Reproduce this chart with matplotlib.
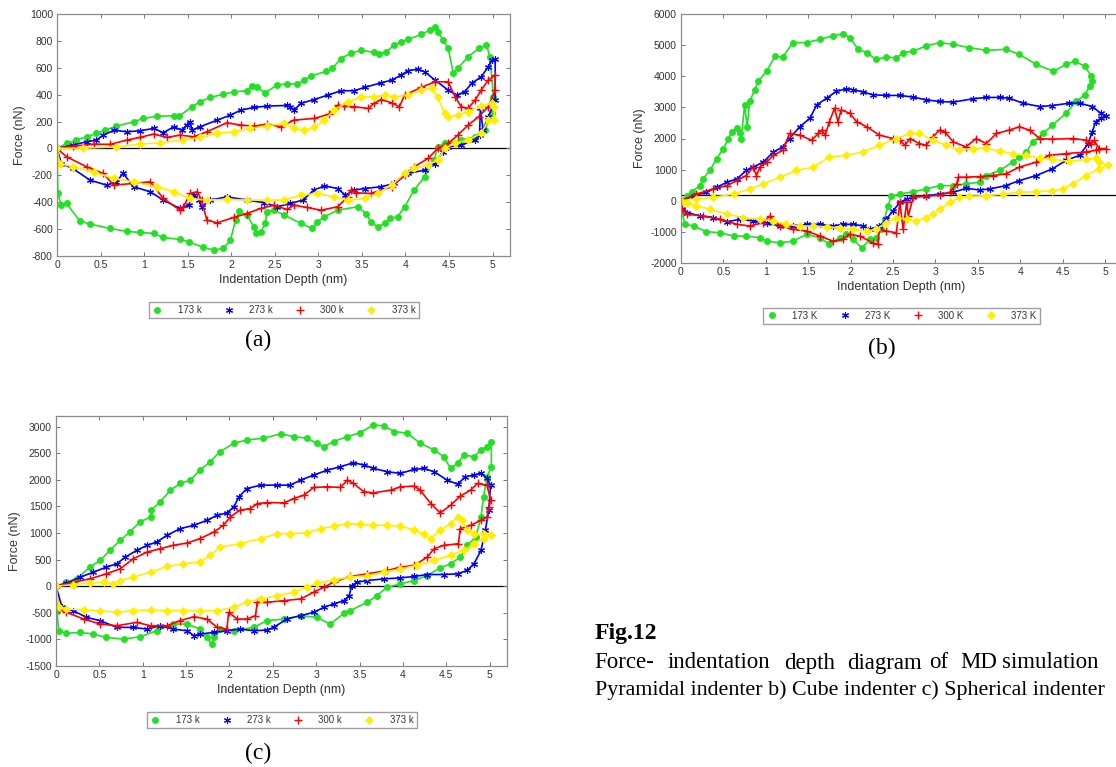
import matplotlib.pyplot as plt
from matplotlib.lines import Line2D

plt.rcParams['font.family'] = ['Liberation Sans', 'DejaVu Sans']
plt.rcParams['axes.unicode_minus'] = False

# ---- data: (indentation depth nm, force nN) ----
# (a) pyramidal indenter
a_173 = [(0, 0), (0.11, 37), (0.22, 62), (0.34, 87), (0.45, 112), (0.55, 136), (0.68, 166), (0.88, 198),
         (0.99, 223), (1.15, 240), (1.34, 243), (1.40, 240), (1.55, 310), (1.64, 347), (1.76, 379), (1.91, 404),
         (2.03, 421), (2.18, 429), (2.24, 464), (2.30, 454), (2.39, 414), (2.53, 474), (2.64, 479), (2.76, 481),
         (2.84, 508), (2.91, 538), (3.09, 573), (3.16, 595), (3.26, 669), (3.37, 707), (3.49, 731), (3.64, 714),
         (3.70, 699), (3.78, 719), (3.87, 769), (3.95, 793), (4.03, 811), (4.18, 848), (4.28, 880), (4.34, 900),
         (4.37, 868), (4.43, 806), (4.49, 744), (4.55, 558), (4.60, 595), (4.72, 682), (4.84, 744), (4.93, 769),
         (4.97, 682), (5.01, 384),
         (4.99, 260), (4.91, 136), (4.80, 87), (4.64, 62), (4.45, 37), (4.37, 12), (4.33, -87), (4.22, -211),
         (4.10, -310), (3.99, -434), (3.91, -508), (3.82, -521), (3.76, -558), (3.68, -583), (3.60, -546),
         (3.55, -484), (3.45, -434), (3.22, -459), (3.07, -508), (2.99, -546), (2.93, -595), (2.80, -558),
         (2.61, -496), (2.49, -459), (2.41, -471), (2.39, -558), (2.34, -620), (2.28, -632), (2.26, -583),
         (2.18, -496), (2.09, -464), (2.05, -533), (1.99, -682), (1.91, -744), (1.80, -756), (1.68, -736),
         (1.51, -694), (1.41, -677), (1.22, -662), (1.11, -632), (0.95, -625), (0.80, -617), (0.61, -595),
         (0.38, -563), (0.26, -538), (0.11, -409), (0.05, -422), (0.01, -335), (0, 0)]
a_273 = [(0, 0), (0.18, 25), (0.34, 50), (0.45, 62), (0.53, 99), (0.66, 136), (0.80, 124), (0.95, 131),
         (1.11, 149), (1.22, 117), (1.34, 161), (1.43, 136), (1.49, 174), (1.53, 198), (1.55, 136), (1.64, 161),
         (1.84, 211), (1.99, 248), (2.11, 285), (2.26, 305), (2.41, 315), (2.64, 320), (2.68, 310), (2.72, 285),
         (2.80, 335), (2.95, 364), (3.11, 397), (3.26, 429), (3.41, 429), (3.53, 454), (3.72, 488), (3.84, 508),
         (3.95, 545), (4.03, 578), (4.14, 590), (4.22, 570), (4.34, 508), (4.49, 434), (4.59, 397), (4.68, 422),
         (4.76, 484), (4.87, 533), (4.95, 607), (4.99, 657), (5.03, 662), (5.03, 360),
         (4.95, 236), (4.89, 136), (4.86, 300), (4.85, 100), (4.80, 62), (4.64, 25), (4.49, 12), (4.43, -25),
         (4.34, -112), (4.22, -161), (4.03, -186), (3.87, -260), (3.72, -285), (3.53, -298), (3.41, -310),
         (3.31, -347), (3.22, -298), (3.07, -278), (2.95, -310), (2.82, -384), (2.68, -409), (2.53, -434),
         (2.38, -404), (2.18, -384), (1.95, -360), (1.76, -384), (1.66, -434), (1.63, -384), (1.57, -347),
         (1.51, -422), (1.41, -446), (1.22, -384), (1.07, -322), (0.88, -285), (0.76, -186), (0.68, -248),
         (0.57, -273), (0.38, -236), (0.18, -149), (0.05, -112), (0, 0)]
a_300 = [(0, 0), (0.18, 17), (0.42, 32), (0.61, 30), (0.80, 62), (0.95, 82), (1.11, 107), (1.26, 82),
         (1.41, 99), (1.57, 87), (1.72, 124), (1.95, 191), (2.11, 174), (2.26, 166), (2.41, 181), (2.57, 161),
         (2.72, 211), (2.95, 223), (3.12, 255), (3.22, 322), (3.30, 315), (3.41, 310), (3.57, 298), (3.64, 335),
         (3.72, 364), (3.84, 340), (3.93, 310), (3.99, 397), (4.18, 454), (4.34, 496), (4.49, 496), (4.57, 384),
         (4.64, 310), (4.72, 298), (4.80, 360), (4.87, 434), (4.95, 508), (5.03, 545), (5.03, 434),
         (4.95, 310), (4.84, 236), (4.72, 174), (4.60, 99), (4.49, 37), (4.37, 0), (4.26, -74), (4.10, -136),
         (3.99, -198), (3.84, -285), (3.60, -335), (3.43, -330), (3.37, -310), (3.34, -360), (3.22, -434),
         (3.03, -459), (2.87, -439), (2.72, -422), (2.64, -454), (2.49, -422), (2.34, -446), (2.18, -484),
         (2.03, -513), (1.84, -553), (1.72, -533), (1.66, -384), (1.61, -322), (1.53, -335), (1.45, -434),
         (1.41, -459), (1.22, -372), (1.07, -248), (0.88, -260), (0.65, -273), (0.53, -186), (0.34, -136),
         (0.11, -62), (0, 0)]
a_373 = [(0, 0), (0.30, 2), (0.68, 12), (0.95, 32), (1.18, 42), (1.45, 62), (1.64, 82), (1.84, 112),
         (2.03, 124), (2.22, 149), (2.41, 169), (2.61, 186), (2.72, 149), (2.84, 136), (2.95, 156), (3.07, 211),
         (3.18, 285), (3.34, 347), (3.49, 384), (3.64, 384), (3.76, 397), (3.87, 384), (4.03, 397), (4.18, 434),
         (4.30, 446), (4.37, 384), (4.45, 260), (4.49, 236), (4.60, 248), (4.72, 273), (4.87, 315), (4.99, 335),
         (5.02, 310), (5.02, 211),
         (4.95, 211), (4.87, 112), (4.72, 62), (4.57, 37), (4.45, 0), (4.37, -87), (4.26, -124), (4.10, -149),
         (3.99, -186), (3.84, -273), (3.68, -335), (3.53, -372), (3.34, -384), (3.18, -360), (2.99, -335),
         (2.80, -347), (2.61, -384), (2.41, -384), (2.18, -384), (1.95, -379), (1.72, -384), (1.53, -372),
         (1.34, -322), (1.15, -285), (0.88, -248), (0.65, -223), (0.42, -174), (0.18, -136), (0.03, -112), (0, 0)]

# (b) cube indenter
b_173 = [(0, 0), (0.07, 162), (0.13, 292), (0.22, 486), (0.26, 703), (0.34, 973), (0.42, 1351), (0.50, 1676),
         (0.56, 2000), (0.60, 2216), (0.66, 2324), (0.69, 2162), (0.71, 2000), (0.75, 3081), (0.78, 2378),
         (0.81, 3189), (0.87, 3568), (0.91, 3838), (1.01, 4162), (1.11, 4649), (1.20, 4616), (1.32, 5081),
         (1.48, 5081), (1.64, 5189), (1.79, 5297), (1.91, 5373), (1.99, 5243), (2.09, 4865), (2.19, 4757),
         (2.30, 4541), (2.42, 4616), (2.54, 4595), (2.62, 4757), (2.74, 4811), (2.89, 4973), (3.05, 5081),
         (3.21, 5027), (3.40, 4919), (3.60, 4832), (3.83, 4865), (3.99, 4703), (4.19, 4378), (4.39, 4162),
         (4.54, 4378), (4.64, 4486), (4.76, 4324), (4.84, 4000), (4.85, 3838),
         (4.82, 3676), (4.76, 3405), (4.66, 3189), (4.54, 2811), (4.38, 2432), (4.27, 2162), (4.15, 1892),
         (4.07, 1568), (3.99, 1405), (3.91, 1243), (3.76, 973), (3.60, 811), (3.52, 595), (3.36, 541),
         (3.21, 486), (3.05, 486), (2.89, 378), (2.74, 292), (2.58, 216), (2.48, 141), (2.44, -162),
         (2.40, -595), (2.36, -919), (2.30, -1189), (2.23, -1243), (2.13, -1514), (2.03, -1243), (1.95, -1081),
         (1.87, -1189), (1.75, -1405), (1.64, -1189), (1.48, -1081), (1.32, -1297), (1.17, -1351),
         (1.01, -1297), (0.93, -1189), (0.77, -1135), (0.62, -1135), (0.46, -1027), (0.30, -995), (0.15, -811),
         (0.05, -757), (0.01, -378), (0, 0)]
b_273 = [(0, 0), (0.15, 162), (0.30, 270), (0.42, 432), (0.54, 595), (0.66, 703), (0.77, 973), (0.85, 1081),
         (0.97, 1243), (1.09, 1568), (1.20, 1730), (1.28, 2000), (1.40, 2378), (1.52, 2649), (1.60, 3081),
         (1.72, 3297), (1.83, 3514), (1.95, 3600), (2.03, 3568), (2.15, 3492), (2.26, 3405), (2.42, 3384),
         (2.58, 3384), (2.74, 3330), (2.89, 3243), (3.05, 3189), (3.21, 3168), (3.44, 3276), (3.60, 3319),
         (3.76, 3319), (3.87, 3297), (4.03, 3135), (4.23, 3027), (4.38, 3059), (4.58, 3135), (4.70, 3135),
         (4.85, 3027), (4.95, 2811), (5.01, 2735),
         (4.95, 2649), (4.89, 2541), (4.85, 2216), (4.80, 1838), (4.70, 1459), (4.54, 1297), (4.38, 1027),
         (4.19, 811), (3.99, 649), (3.83, 486), (3.64, 378), (3.52, 346), (3.36, 400), (3.21, 270), (3.05, 216),
         (2.89, 162), (2.74, 108), (2.66, 54), (2.58, -54), (2.50, -324), (2.42, -595), (2.34, -811),
         (2.23, -919), (2.15, -811), (2.03, -757), (1.91, -757), (1.79, -811), (1.64, -757), (1.48, -757),
         (1.32, -811), (1.17, -811), (1.01, -724), (0.85, -649), (0.69, -595), (0.54, -681), (0.38, -541),
         (0.22, -486), (0.07, -378), (0.01, -270), (0, 0)]
b_300 = [(0, 0), (0.18, 216), (0.38, 378), (0.54, 486), (0.66, 649), (0.77, 811), (0.85, 1081), (0.89, 811),
         (0.93, 1081), (1.01, 1243), (1.09, 1459), (1.20, 1622), (1.28, 2162), (1.40, 2108), (1.54, 1946),
         (1.62, 2162), (1.66, 2270), (1.70, 2108), (1.75, 2541), (1.81, 2973), (1.85, 2541), (1.89, 2919),
         (1.99, 2811), (2.07, 2541), (2.19, 2378), (2.34, 2108), (2.50, 2000), (2.58, 1946), (2.64, 1784),
         (2.70, 2000), (2.81, 1838), (2.89, 1784), (2.97, 2054), (3.05, 2270), (3.11, 2216), (3.21, 1892),
         (3.36, 1730), (3.48, 2000), (3.60, 1838), (3.72, 2162), (3.87, 2270), (3.99, 2378), (4.11, 2270),
         (4.23, 2000), (4.38, 1978), (4.62, 2000), (4.78, 1946), (4.84, 1838), (4.87, 1946), (4.93, 1676),
         (5.01, 1676),
         (4.89, 1622), (4.78, 1568), (4.54, 1514), (4.34, 1459), (4.19, 1243), (3.99, 1081), (3.83, 865),
         (3.68, 811), (3.52, 778), (3.36, 757), (3.27, 757), (3.25, 541), (3.17, 270), (3.05, 184), (2.89, 141),
         (2.74, 130), (2.68, -486), (2.66, -54), (2.62, -919), (2.58, -54), (2.54, -1027), (2.42, -973),
         (2.34, -919), (2.32, -1405), (2.26, -1351), (2.11, -1135), (1.99, -1081), (1.91, -1243), (1.79, -1297),
         (1.64, -1135), (1.48, -973), (1.32, -919), (1.17, -811), (1.05, -486), (0.97, -703), (0.81, -811),
         (0.66, -757), (0.46, -595), (0.26, -486), (0.07, -432), (0.01, -270), (0, 0)]
b_373 = [(0, 0), (0.18, 54), (0.38, 108), (0.62, 216), (0.81, 378), (0.97, 541), (1.17, 757), (1.36, 973),
         (1.56, 1081), (1.75, 1405), (1.95, 1459), (2.15, 1568), (2.34, 1784), (2.54, 2000), (2.70, 2162),
         (2.81, 2162), (2.97, 1946), (3.13, 1784), (3.28, 1622), (3.44, 1676), (3.60, 1697), (3.76, 1589),
         (3.91, 1514), (4.07, 1459), (4.23, 1373), (4.38, 1330), (4.58, 1265), (4.78, 1330), (4.89, 1373),
         (4.93, 1243), (5.03, 1135),
         (4.93, 1027), (4.78, 811), (4.62, 541), (4.50, 378), (4.38, 324), (4.19, 292), (3.99, 270), (3.80, 216),
         (3.60, 162), (3.40, 141), (3.28, 108), (3.17, -54), (3.05, -270), (2.97, -432), (2.89, -541),
         (2.77, -649), (2.66, -595), (2.54, -541), (2.42, -703), (2.30, -919), (2.19, -973), (2.03, -919),
         (1.87, -865), (1.72, -843), (1.56, -811), (1.40, -811), (1.24, -757), (1.09, -649), (0.93, -595),
         (0.73, -541), (0.54, -432), (0.34, -270), (0.18, -162), (0.07, -76), (0, 0)]

# (c) spherical indenter
c_173 = [(0, 0), (0.12, 76), (0.24, 138), (0.39, 359), (0.51, 485), (0.62, 673), (0.74, 862), (0.85, 1020),
         (0.97, 1208), (1.09, 1303), (1.10, 1429), (1.20, 1586), (1.32, 1806), (1.43, 1932), (1.55, 1995),
         (1.66, 2184), (1.78, 2341), (1.89, 2530), (2.05, 2687), (2.20, 2750), (2.39, 2782), (2.59, 2864),
         (2.74, 2813), (2.89, 2782), (3.01, 2687), (3.09, 2624), (3.20, 2719), (3.36, 2813), (3.51, 2889),
         (3.66, 3033), (3.78, 3014), (3.90, 2907), (4.05, 2876), (4.20, 2687), (4.36, 2561), (4.47, 2435),
         (4.55, 2215), (4.63, 2310), (4.70, 2467), (4.82, 2435), (4.90, 2561), (4.97, 2624), (5.02, 2719),
         (5.02, 2247),
         (4.97, 2058), (4.93, 1680), (4.90, 1303), (4.84, 925), (4.74, 768), (4.66, 548), (4.55, 422),
         (4.43, 346), (4.28, 201), (4.13, 107), (3.97, 44), (3.82, -19), (3.70, -176), (3.59, -302),
         (3.39, -459), (3.32, -510), (3.16, -711), (3.01, -585), (2.82, -554), (2.63, -617), (2.43, -648),
         (2.28, -774), (2.05, -837), (1.89, -806), (1.82, -963), (1.80, -1089), (1.74, -963), (1.66, -806),
         (1.51, -711), (1.35, -711), (1.16, -837), (0.97, -950), (0.78, -994), (0.58, -963), (0.43, -900),
         (0.28, -868), (0.12, -887), (0.03, -837), (0.01, -459), (0, 0)]
c_273 = [(0, 0), (0.12, 57), (0.28, 170), (0.43, 264), (0.58, 359), (0.70, 422), (0.80, 548), (0.93, 673),
         (1.05, 768), (1.16, 831), (1.28, 957), (1.43, 1082), (1.59, 1145), (1.74, 1240), (1.86, 1334),
         (1.97, 1378), (2.05, 1492), (2.11, 1680), (2.20, 1837), (2.36, 1900), (2.55, 1900), (2.70, 1900),
         (2.82, 1995), (2.97, 2089), (3.13, 2184), (3.28, 2247), (3.43, 2322), (3.55, 2278), (3.66, 2215),
         (3.82, 2152), (3.97, 2121), (4.13, 2196), (4.24, 2215), (4.36, 2152), (4.51, 1995), (4.63, 1919),
         (4.72, 2058), (4.82, 2089), (4.90, 2121), (4.97, 2026), (5.01, 1900),
         (4.99, 1429), (4.95, 1051), (4.90, 673), (4.82, 422), (4.74, 296), (4.63, 233), (4.47, 220),
         (4.28, 220), (4.13, 183), (3.97, 157), (3.78, 138), (3.59, 107), (3.47, 76), (3.41, 13), (3.38, -176),
         (3.32, -271), (3.20, -334), (3.09, -396), (2.97, -491), (2.82, -554), (2.66, -617), (2.51, -774),
         (2.43, -824), (2.28, -837), (2.12, -806), (1.97, -837), (1.82, -868), (1.66, -900), (1.59, -931),
         (1.51, -837), (1.35, -806), (1.20, -743), (1.05, -806), (0.89, -774), (0.70, -774), (0.51, -648),
         (0.35, -585), (0.20, -459), (0.07, -396), (0, 0)]
c_300 = [(0, 0), (0.20, 76), (0.39, 138), (0.58, 233), (0.74, 327), (0.89, 516), (1.05, 642), (1.20, 705),
         (1.35, 768), (1.51, 812), (1.66, 894), (1.82, 1019), (1.93, 1145), (2.01, 1303), (2.12, 1429),
         (2.24, 1460), (2.32, 1554), (2.43, 1573), (2.63, 1567), (2.74, 1649), (2.86, 1712), (2.97, 1857),
         (3.13, 1869), (3.28, 1857), (3.36, 1995), (3.43, 1932), (3.55, 1775), (3.66, 1756), (3.86, 1806),
         (3.97, 1869), (4.13, 1882), (4.20, 1806), (4.32, 1554), (4.43, 1378), (4.55, 1523), (4.66, 1693),
         (4.78, 1806), (4.86, 1932), (4.97, 1900), (5.01, 1617),
         (4.99, 1491), (4.97, 1303), (4.90, 1240), (4.78, 1145), (4.66, 1082), (4.64, 799), (4.47, 768),
         (4.36, 705), (4.28, 548), (4.13, 390), (3.97, 359), (3.82, 296), (3.59, 233), (3.39, 183), (3.20, 76),
         (3.09, -19), (2.97, -113), (2.82, -239), (2.63, -271), (2.43, -302), (2.32, -302), (2.30, -554),
         (2.20, -617), (2.09, -617), (1.99, -491), (1.97, -806), (1.86, -774), (1.74, -617), (1.59, -573),
         (1.43, -648), (1.28, -743), (1.09, -743), (0.93, -680), (0.70, -743), (0.51, -711), (0.32, -617),
         (0.12, -491), (0.03, -428), (0, 0)]
c_373 = [(0, 0), (0.20, 31), (0.39, 57), (0.55, 76), (0.66, 44), (0.74, 107), (0.89, 170), (1.09, 264),
         (1.28, 371), (1.47, 422), (1.66, 453), (1.78, 579), (1.89, 736), (2.12, 799), (2.36, 894), (2.55, 988),
         (2.70, 988), (2.89, 1001), (3.05, 1082), (3.20, 1126), (3.36, 1177), (3.51, 1164), (3.66, 1145),
         (3.82, 1145), (3.97, 1126), (4.13, 1063), (4.24, 975), (4.32, 894), (4.43, 1051), (4.55, 1177),
         (4.63, 1303), (4.68, 1240), (4.74, 1051), (4.82, 988), (4.93, 975), (5.01, 957),
         (4.93, 894), (4.82, 799), (4.70, 673), (4.55, 579), (4.36, 485), (4.16, 390), (3.97, 327), (3.78, 264),
         (3.59, 201), (3.39, 170), (3.20, 120), (3.01, 57), (2.89, -19), (2.74, -113), (2.55, -176),
         (2.36, -239), (2.20, -302), (2.05, -396), (1.86, -459), (1.66, -459), (1.47, -459), (1.28, -459),
         (1.09, -447), (0.89, -459), (0.70, -491), (0.51, -459), (0.32, -447), (0.12, -428), (0.03, -396), (0, 0)]

depth_ticks = [0, 0.5, 1, 1.5, 2, 2.5, 3, 3.5, 4, 4.5, 5]
labels_a = ['173 k', '273 k', '300 k', '373 k']
labels_b = ['173 K', '273 K', '300 K', '373 K']
labels_c = ['173 k', '273 k', '300 k', '373 k']
baseline_a, baseline_b, baseline_c = 0, 200, 0

# colour, marker, size, edge width  (asterisk marker like matlab '*')
styles = [('#22e022', 'o', 4.5, 0.5), ('#0000ff', (6, 2, 0), 5, 0.8),
          ('#ff0000', '+', 5.5, 1.0), ('#ffee00', 'D', 3.8, 0.5)]

W, H = 1116, 767
fig = plt.figure(figsize=(W / 100, H / 100), dpi=100)


def panel(left, top, right, bottom, series, labels, baseline, ylim, yticks, legend_gap):
    ax = fig.add_axes([left / W, 1 - bottom / H, (right - left) / W, (bottom - top) / H])
    ax.axhline(baseline, color='black', lw=0.9, zorder=1)
    for pts, (col, mk, ms, mew) in zip(series, styles):
        ax.plot([p[0] for p in pts], [p[1] for p in pts], color=col, lw=1.2,
                marker=mk, ms=ms, mfc=col, mec=col, mew=mew, zorder=2)
    ax.set_xlim(0, 5.2)
    ax.set_ylim(*ylim)
    ax.set_xticks(depth_ticks)
    ax.set_xticklabels(['%g' % t for t in depth_ticks])
    ax.set_yticks(yticks)
    ax.tick_params(direction='in', top=True, right=True, length=3, width=0.7,
                   color='#777777', labelsize=7.5, labelcolor='#333333', pad=3)
    for s in ax.spines.values():
        s.set_color('#8a8a8a')
        s.set_linewidth(0.9)
    ax.set_xlabel('Indentation Depth (nm)', fontsize=9, color='#333333', labelpad=3)
    ax.set_ylabel('Force (nN)', fontsize=9, color='#333333', labelpad=3)
    handles = [Line2D([], [], ls='none', marker=mk, ms=ms, mfc=col, mec=col, mew=mew)
               for col, mk, ms, mew in styles]
    leg = ax.legend(handles, labels, loc='upper center', bbox_to_anchor=(0.5, legend_gap), ncol=4,
                    fontsize=7, frameon=True, fancybox=False, edgecolor='#888888',
                    handlelength=1.2, handletextpad=1.5, columnspacing=2.2, borderpad=0.3)
    leg.get_frame().set_linewidth(1.0)
    for t in leg.get_texts():
        t.set_color('#333333')
    return ax


panel(57, 14, 510, 256, [a_173, a_273, a_300, a_373], labels_a, baseline_a,
      (-800, 1000), range(-800, 1001, 200), -0.17)
panel(681, 14, 1122, 263, [b_173, b_273, b_300, b_373], labels_b, baseline_b,
      (-2000, 6000), range(-2000, 6001, 1000), -0.16)
panel(56, 416, 507, 666, [c_173, c_273, c_300, c_373], labels_c, baseline_c,
      (-1500, 3200), range(-1500, 3001, 500), -0.165)

serif = ['Liberation Serif', 'DejaVu Serif']
fig.text(258 / W, 1 - 340 / H, '(a)', family=serif, fontsize=17, ha='center', va='center')
fig.text(882 / W, 1 - 348 / H, '(b)', family=serif, fontsize=17, ha='center', va='center')
fig.text(258 / W, 1 - 753 / H, '(c)', family=serif, fontsize=17, ha='center', va='center')

fig.text(595 / W, 1 - 633 / H, 'Fig.12', family=serif, fontsize=17, fontweight='bold', va='center')
# first caption line is justified in the source, so place the words one by one
words = ['Force-', 'indentation', 'depth', 'diagram', 'of', 'MD', 'simulation']
word_x = [594, 668, 784, 847, 929, 960, 1002]
for w, x in zip(words, word_x):
    fig.text(x / W, 1 - 663 / H, w, family=serif, fontsize=16.5, va='center')
fig.text(595 / W, 1 - 690 / H, 'Pyramidal indenter b) Cube indenter c) Spherical indenter',
         family=serif, fontsize=15.8, va='center')

fig.savefig('out.png', dpi=100)
